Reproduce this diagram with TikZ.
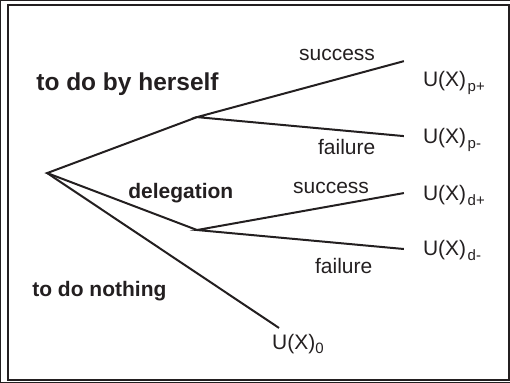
\documentclass[tikz,border=0pt]{standalone}
\usepackage{fontspec}
\setmainfont{Liberation Sans}
\definecolor{ink}{HTML}{231F20}
\begin{document}
\begin{tikzpicture}[x=1pt,y=-1pt, every path/.style={draw=ink}, every node/.style={text=ink},
    branch/.style={line width=2pt, line join=miter},
    choice/.style={inner sep=0pt, anchor=base west, font=\fontsize{21}{24}\selectfont\bfseries},
    outcome/.style={inner sep=0pt, anchor=base west, font=\fontsize{21}{24}\selectfont},
    payoff/.style={inner sep=0pt, anchor=base west, font=\fontsize{21}{24}\selectfont}]
  % canvas and frame
  \useasboundingbox (0,0) rectangle (510,382);
  \draw[line width=2pt] (8,4.5) rectangle (509,380.5);

  % decision points and leaves
  \coordinate (root) at (47,173);
  \coordinate (self) at (197,117);
  \coordinate (deleg) at (197,230);
  \coordinate (pplus) at (404,61);
  \coordinate (pminus) at (404,136);
  \coordinate (dplus) at (404,193);
  \coordinate (dminus) at (404,249);
  \coordinate (none) at (279,328);

  % branches
  \draw[branch] (pplus) -- (self) -- (pminus);
  \draw[branch] (self) -- (root) -- (deleg);
  \draw[branch] (dplus) -- (deleg) -- (dminus);
  \draw[branch] (root) -- (none);

  % choices
  \node[choice, font=\fontsize{24.5}{28}\selectfont\bfseries] (lself) at (36,90) {to do by herself};
  \node[choice] (ldeleg) at (128,198) {delegation};
  \node[choice] (lnone) at (32,297) {to do nothing};

  % outcomes
  \node[outcome] (s1) at (299,60) {success};
  \node[outcome] (f1) at (318,154) {failure};
  \node[outcome] (s2) at (293,193) {success};
  \node[outcome] (f2) at (315,274) {failure};

  % utilities
  \node[payoff] (upp) at (423,86) {U(X)\kern1.5pt\raisebox{-5pt}{\fontsize{15}{17}\selectfont p+}};
  \node[payoff] (upm) at (423,143) {U(X)\kern1.5pt\raisebox{-5pt}{\fontsize{15}{17}\selectfont p-}};
  \node[payoff] (udp) at (423,200) {U(X)\kern1.5pt\raisebox{-5pt}{\fontsize{15}{17}\selectfont d+}};
  \node[payoff] (udm) at (423,255) {U(X)\kern1.5pt\raisebox{-5pt}{\fontsize{15}{17}\selectfont d-}};
  \node[payoff] (u0) at (272,350) {U(X)\raisebox{-4pt}{\fontsize{15}{17}\selectfont 0}};
\end{tikzpicture}
\end{document}
